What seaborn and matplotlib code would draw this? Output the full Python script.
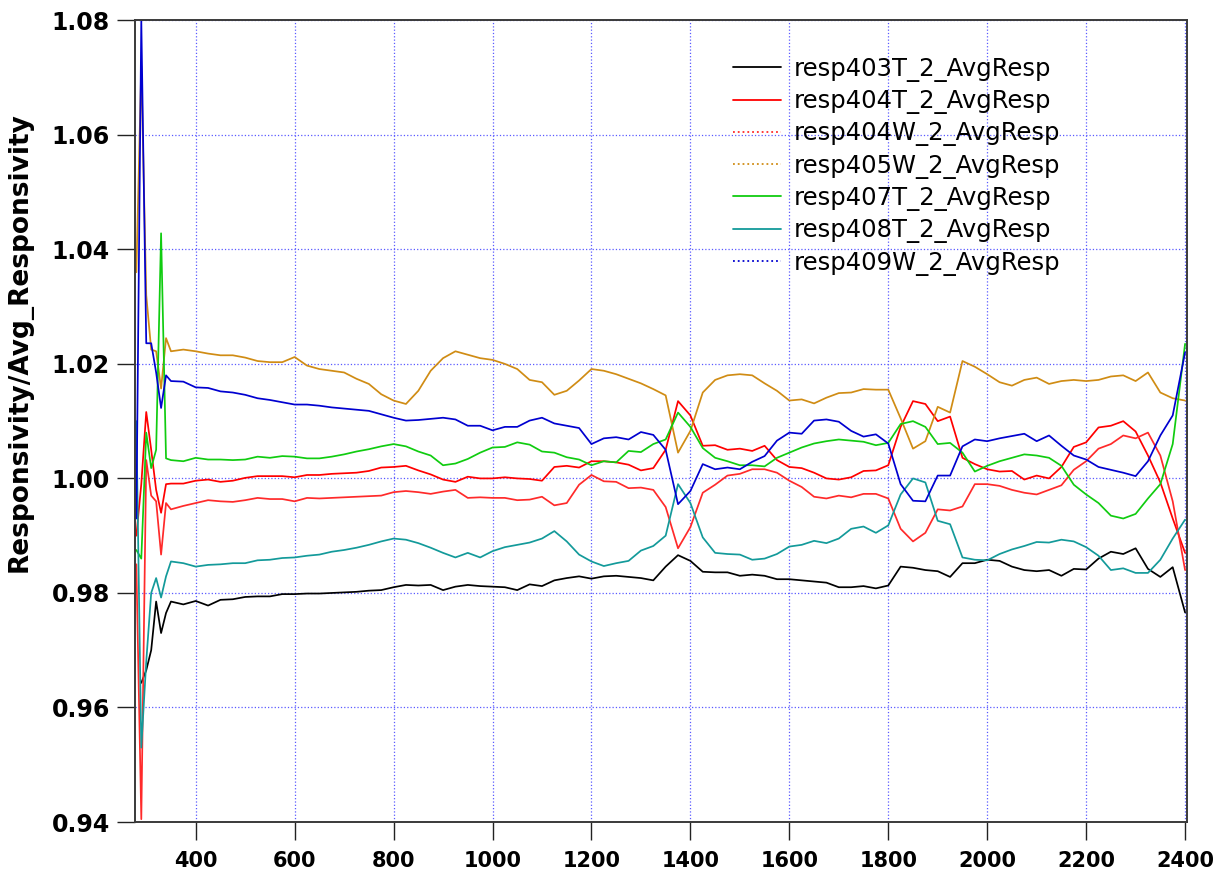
import numpy as np
import pandas as pd
import seaborn as sns
import matplotlib
matplotlib.use('Agg')
from matplotlib import pyplot as plt
from matplotlib.lines import Line2D

# wavelength grid (nm)
wavelength = [280, 290, 300, 310, 320, 330, 340] + list(range(350, 2401, 25))

resp403T = [np.nan, 0.9643, 0.9665, 0.9700, 0.9785, 0.9730, 0.9765,
            0.9785, 0.9780, 0.9786, 0.9778, 0.9788, 0.9789, 0.9793, 0.9794, 0.9794, 0.9798,
            0.9798, 0.9799, 0.9799, 0.9800, 0.9801, 0.9802, 0.9804, 0.9805, 0.9810, 0.9814,
            0.9813, 0.9814, 0.9805, 0.9811, 0.9814, 0.9812, 0.9811, 0.9810, 0.9805, 0.9815,
            0.9812, 0.9822, 0.9826, 0.9829, 0.9825, 0.9829, 0.9830, 0.9828, 0.9826, 0.9822,
            0.9846, 0.9866, 0.9856, 0.9837, 0.9836, 0.9836, 0.9830, 0.9832, 0.9830, 0.9824,
            0.9824, 0.9822, 0.9820, 0.9818, 0.9810, 0.9810, 0.9812, 0.9808, 0.9813, 0.9846,
            0.9844, 0.9840, 0.9838, 0.9828, 0.9852, 0.9852, 0.9858, 0.9856, 0.9846, 0.9840,
            0.9838, 0.9840, 0.9830, 0.9842, 0.9841, 0.9860, 0.9872, 0.9868, 0.9878, 0.9842,
            0.9828, 0.9845, 0.9766]

resp404T = [0.9900, 0.9990, 1.0116, 1.0050, 0.9980, 0.9940, 0.9990,
            0.9991, 0.9991, 0.9996, 0.9998, 0.9994, 0.9996, 1.0001, 1.0004, 1.0004, 1.0004,
            1.0002, 1.0006, 1.0006, 1.0008, 1.0009, 1.0010, 1.0013, 1.0019, 1.0020, 1.0022,
            1.0014, 1.0007, 0.9998, 0.9994, 1.0003, 1.0000, 1.0000, 1.0002, 1.0000, 0.9999,
            0.9996, 1.0020, 1.0022, 1.0019, 1.0030, 1.0030, 1.0028, 1.0024, 1.0014, 1.0018,
            1.0050, 1.0135, 1.0110, 1.0057, 1.0058, 1.0050, 1.0052, 1.0048, 1.0057, 1.0032,
            1.0020, 1.0018, 1.0010, 1.0000, 0.9998, 1.0002, 1.0013, 1.0014, 1.0023, 1.0090,
            1.0135, 1.0130, 1.0100, 1.0108, 1.0036, 1.0025, 1.0016, 1.0012, 1.0013, 0.9998,
            1.0005, 1.0000, 1.0020, 1.0055, 1.0063, 1.0089, 1.0092, 1.0100, 1.0082, 1.0040,
            0.9993, 0.9930, 0.9870]

resp404W = [0.9850, 0.9405, 1.0032, 0.9970, 0.9960, 0.9867, 0.9957,
            0.9946, 0.9952, 0.9957, 0.9962, 0.9960, 0.9959, 0.9962, 0.9966, 0.9964, 0.9964,
            0.9960, 0.9966, 0.9965, 0.9966, 0.9967, 0.9968, 0.9969, 0.9970, 0.9976, 0.9978,
            0.9976, 0.9973, 0.9977, 0.9980, 0.9966, 0.9967, 0.9966, 0.9966, 0.9962, 0.9963,
            0.9968, 0.9953, 0.9957, 0.9989, 1.0006, 0.9995, 0.9994, 0.9983, 0.9984, 0.9980,
            0.9950, 0.9878, 0.9915, 0.9975, 0.9989, 1.0005, 1.0008, 1.0016, 1.0016, 1.0010,
            0.9996, 0.9985, 0.9968, 0.9965, 0.9970, 0.9967, 0.9973, 0.9973, 0.9965, 0.9912,
            0.9890, 0.9905, 0.9946, 0.9944, 0.9951, 0.9990, 0.9990, 0.9987, 0.9980, 0.9975,
            0.9972, 0.9980, 0.9988, 1.0015, 1.0030, 1.0052, 1.0060, 1.0075, 1.0070, 1.0080,
            1.0040, 0.9960, 0.9840]

resp405W = [1.0360, 1.0720, 1.0320, 1.0225, 1.0222, 1.0157, 1.0245,
            1.0222, 1.0225, 1.0222, 1.0218, 1.0215, 1.0215, 1.0211, 1.0205, 1.0203, 1.0203,
            1.0212, 1.0197, 1.0191, 1.0188, 1.0185, 1.0174, 1.0165, 1.0147, 1.0136, 1.0130,
            1.0153, 1.0188, 1.0210, 1.0222, 1.0216, 1.0210, 1.0207, 1.0200, 1.0191, 1.0172,
            1.0168, 1.0146, 1.0153, 1.0171, 1.0191, 1.0188, 1.0182, 1.0174, 1.0166, 1.0156,
            1.0145, 1.0045, 1.0083, 1.0150, 1.0172, 1.0180, 1.0182, 1.0180, 1.0166, 1.0153,
            1.0136, 1.0138, 1.0131, 1.0141, 1.0149, 1.0150, 1.0156, 1.0155, 1.0155, 1.0105,
            1.0052, 1.0065, 1.0125, 1.0115, 1.0205, 1.0195, 1.0182, 1.0168, 1.0162, 1.0172,
            1.0176, 1.0165, 1.0170, 1.0172, 1.0170, 1.0172, 1.0178, 1.0180, 1.0170, 1.0185,
            1.0150, 1.0140, 1.0136]

resp407T = [0.9875, 0.9860, 1.0080, 1.0018, 1.0050, 1.0428, 1.0035,
            1.0032, 1.0030, 1.0036, 1.0033, 1.0033, 1.0032, 1.0033, 1.0038, 1.0036, 1.0039,
            1.0038, 1.0035, 1.0035, 1.0038, 1.0042, 1.0047, 1.0051, 1.0056, 1.0060, 1.0056,
            1.0047, 1.0040, 1.0023, 1.0026, 1.0034, 1.0045, 1.0054, 1.0055, 1.0063, 1.0059,
            1.0047, 1.0045, 1.0037, 1.0033, 1.0023, 1.0030, 1.0028, 1.0048, 1.0046, 1.0060,
            1.0068, 1.0115, 1.0090, 1.0053, 1.0036, 1.0030, 1.0023, 1.0023, 1.0021, 1.0036,
            1.0045, 1.0054, 1.0061, 1.0065, 1.0068, 1.0066, 1.0064, 1.0058, 1.0062, 1.0095,
            1.0100, 1.0090, 1.0060, 1.0062, 1.0045, 1.0012, 1.0022, 1.0030, 1.0036, 1.0042,
            1.0040, 1.0036, 1.0022, 0.9989, 0.9972, 0.9957, 0.9935, 0.9930, 0.9938, 0.9965,
            0.9990, 1.0060, 1.0235]

resp408T = [1.0100, 0.9530, 0.9680, 0.9800, 0.9826, 0.9792, 0.9829,
            0.9855, 0.9852, 0.9846, 0.9849, 0.9850, 0.9852, 0.9852, 0.9857, 0.9858, 0.9861,
            0.9862, 0.9865, 0.9867, 0.9872, 0.9875, 0.9879, 0.9884, 0.9890, 0.9895, 0.9893,
            0.9887, 0.9879, 0.9870, 0.9862, 0.9870, 0.9862, 0.9873, 0.9880, 0.9884, 0.9888,
            0.9895, 0.9908, 0.9890, 0.9867, 0.9855, 0.9847, 0.9852, 0.9856, 0.9874, 0.9882,
            0.9900, 0.9990, 0.9957, 0.9897, 0.9870, 0.9868, 0.9867, 0.9858, 0.9860, 0.9868,
            0.9881, 0.9884, 0.9891, 0.9887, 0.9895, 0.9912, 0.9916, 0.9905, 0.9918, 0.9972,
            1.0000, 0.9993, 0.9926, 0.9920, 0.9862, 0.9858, 0.9857, 0.9868, 0.9876, 0.9882,
            0.9889, 0.9888, 0.9893, 0.9890, 0.9880, 0.9865, 0.9840, 0.9843, 0.9835, 0.9835,
            0.9858, 0.9895, 0.9928]

resp409W = [0.9930, 1.0800, 1.0236, 1.0236, 1.0185, 1.0123, 1.0180,
            1.0170, 1.0169, 1.0159, 1.0158, 1.0152, 1.0150, 1.0146, 1.0140, 1.0137, 1.0133,
            1.0129, 1.0129, 1.0127, 1.0124, 1.0122, 1.0120, 1.0118, 1.0112, 1.0106, 1.0101,
            1.0102, 1.0104, 1.0106, 1.0103, 1.0092, 1.0092, 1.0084, 1.0090, 1.0090, 1.0101,
            1.0106, 1.0096, 1.0092, 1.0088, 1.0060, 1.0070, 1.0072, 1.0068, 1.0081, 1.0076,
            1.0050, 0.9955, 0.9978, 1.0025, 1.0016, 1.0019, 1.0016, 1.0029, 1.0039, 1.0066,
            1.0080, 1.0078, 1.0101, 1.0103, 1.0099, 1.0083, 1.0073, 1.0077, 1.0061, 0.9990,
            0.9961, 0.9960, 1.0005, 1.0005, 1.0056, 1.0068, 1.0065, 1.0070, 1.0074, 1.0078,
            1.0065, 1.0075, 1.0057, 1.0040, 1.0033, 1.0020, 1.0015, 1.0010, 1.0004, 1.0030,
            1.0075, 1.0110, 1.0220]

labels = ['resp403T_2_AvgResp', 'resp404T_2_AvgResp', 'resp404W_2_AvgResp',
          'resp405W_2_AvgResp', 'resp407T_2_AvgResp', 'resp408T_2_AvgResp',
          'resp409W_2_AvgResp']
series = [resp403T, resp404T, resp404W, resp405W, resp407T, resp408T, resp409W]
colors = ['#000000', '#ff0000', '#ff2a2a', '#d08c14', '#10cc10', '#139a9a', '#0000d0']
legend_styles = ['-', '-', ':', ':', '-', '-', ':']

frames = []
for name, vals in zip(labels, series):
    frames.append(pd.DataFrame({'wavelength': wavelength, 'ratio': vals, 'series': name}))
data = pd.concat(frames, ignore_index=True)

sns.set_theme(style='white')
plt.rcParams['font.family'] = ['DejaVu Sans']
plt.rcParams['text.color'] = 'black'
plt.rcParams['axes.labelcolor'] = 'black'
plt.rcParams['xtick.color'] = 'black'
plt.rcParams['ytick.color'] = 'black'

fig = plt.figure(figsize=(12.15, 8.82), dpi=100)
ax = fig.add_axes([0.111, 0.068, 0.866, 0.909])

palette = dict(zip(labels, colors))
sns.lineplot(data=data, x='wavelength', y='ratio', hue='series', hue_order=labels,
             palette=palette, estimator=None, linewidth=1.25, legend=False, ax=ax)

ax.set_xlim(277, 2404)
ax.set_ylim(0.94, 1.08)
ax.set_xticks(range(400, 2401, 200))
ax.set_yticks([0.94, 0.96, 0.98, 1.00, 1.02, 1.04, 1.06, 1.08])
ax.set_yticklabels([f'{v:.2f}' for v in ax.get_yticks()])
ax.set_axisbelow(True)
ax.grid(True, color='#5a5aff', linestyle=':', linewidth=0.9)

for sp in ax.spines.values():
    sp.set_color('#3a3a3a')
    sp.set_linewidth(1.4)

ax.tick_params(axis='both', direction='out', length=13, width=1.0, color='#222222',
               bottom=True, left=True, top=False, right=False)
ax.tick_params(axis='y', pad=5, labelsize=17)
ax.tick_params(axis='x', pad=8, labelsize=15)
for t in ax.get_xticklabels() + ax.get_yticklabels():
    t.set_fontweight('bold')

ax.set_xlabel('')
ax.set_ylabel('Responsivity/Avg_Responsivity', fontsize=19, fontweight='bold', color='black')
ax.yaxis.set_label_coords(-0.097, 0.599)

handles = [Line2D([], [], color=c, lw=1.3, ls=s) for c, s in zip(colors, legend_styles)]
ax.legend(handles, labels, loc='upper left', bbox_to_anchor=(0.568, 0.9545), frameon=False,
          fontsize=17.5, handlelength=2.0, handletextpad=0.54, labelspacing=0.30,
          borderpad=0, borderaxespad=0)

fig.savefig('out.png', dpi=100)
